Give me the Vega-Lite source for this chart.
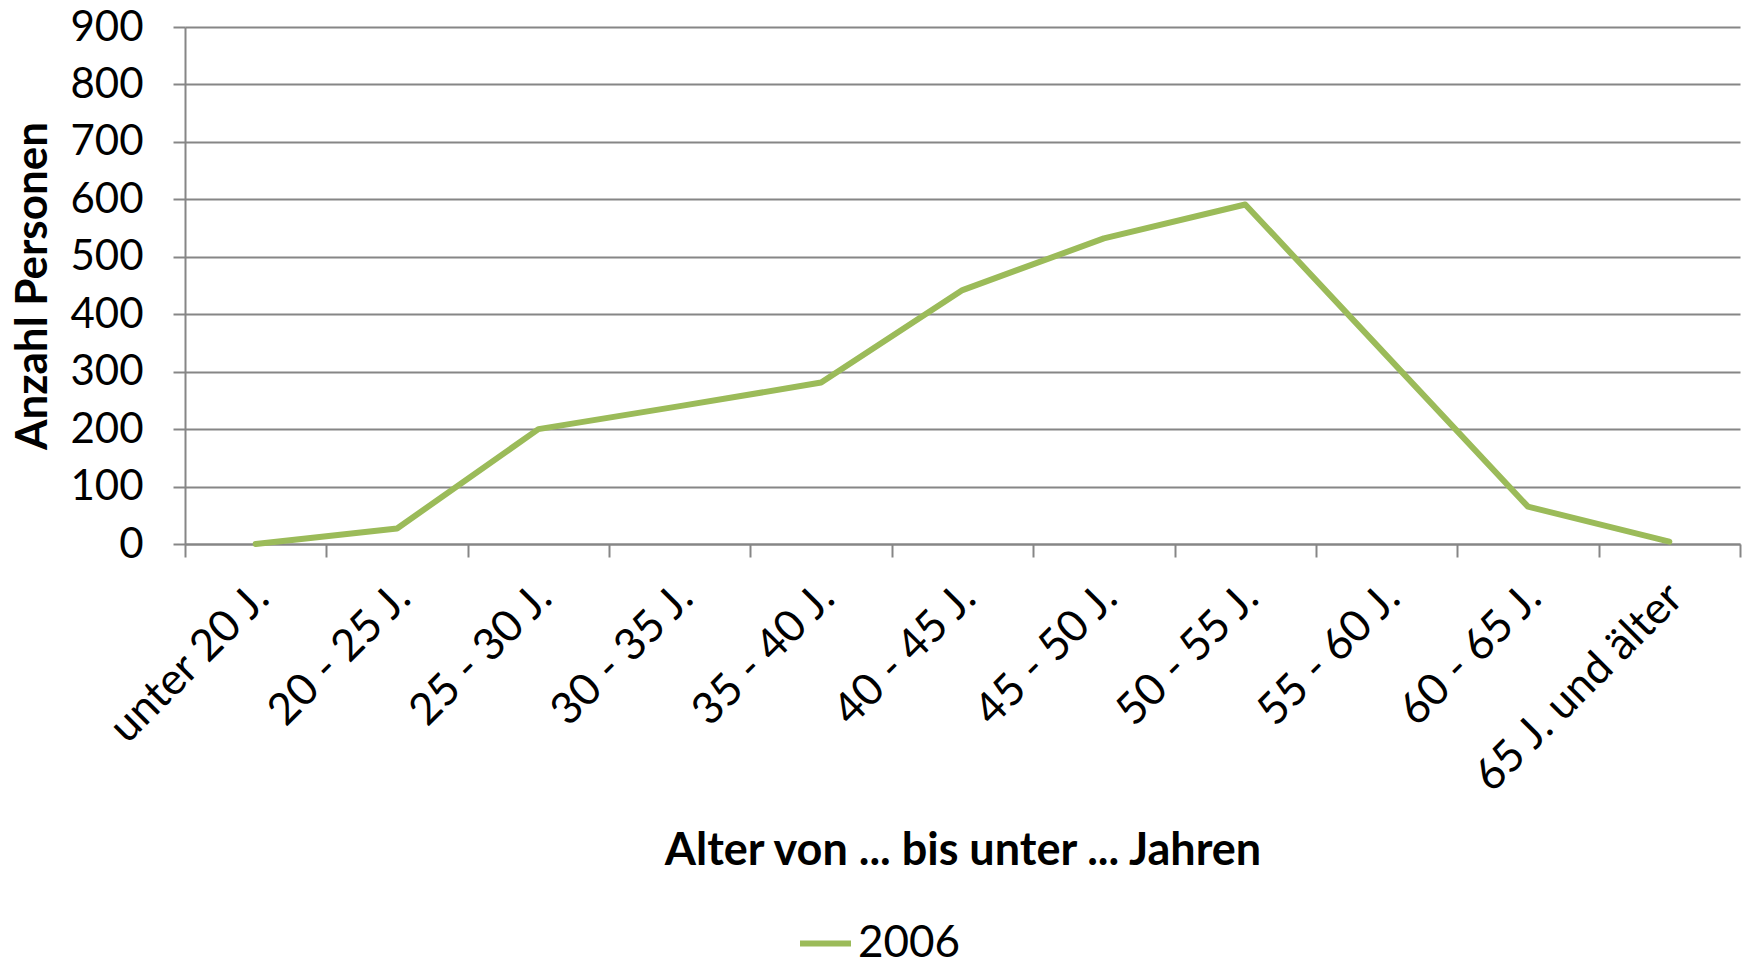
{
  "$schema": "https://vega.github.io/schema/vega-lite/v6.json",
  "autosize": "none",
  "width": 1555,
  "height": 517,
  "padding": {"left": 185, "top": 27, "right": 7, "bottom": 421},
  "background": "white",
  "data": {
    "values": [
      {"alter": "unter 20 J.", "anzahl": 0, "jahr": "2006"},
      {"alter": "20 - 25 J.", "anzahl": 27, "jahr": "2006"},
      {"alter": "25 - 30 J.", "anzahl": 200, "jahr": "2006"},
      {"alter": "30 - 35 J.", "anzahl": 240, "jahr": "2006"},
      {"alter": "35 - 40 J.", "anzahl": 281, "jahr": "2006"},
      {"alter": "40 - 45 J.", "anzahl": 442, "jahr": "2006"},
      {"alter": "45 - 50 J.", "anzahl": 532, "jahr": "2006"},
      {"alter": "50 - 55 J.", "anzahl": 591, "jahr": "2006"},
      {"alter": "55 - 60 J.", "anzahl": 328, "jahr": "2006"},
      {"alter": "60 - 65 J.", "anzahl": 65, "jahr": "2006"},
      {"alter": "65 J. und älter", "anzahl": 4, "jahr": "2006"}
    ]
  },
  "config": {
    "font": "Lato",
    "view": {"stroke": null}
  },
  "mark": {"type": "line", "strokeWidth": 6, "strokeCap": "round", "strokeJoin": "round"},
  "encoding": {
    "x": {
      "field": "alter",
      "type": "ordinal",
      "sort": null,
      "bandPosition": 0.5,
      "scale": {"type": "band", "paddingInner": 0, "paddingOuter": 0},
      "axis": {
        "title": "Alter von ... bis unter ... Jahren",
        "titleFont": "Lato",
        "titleFontSize": 45,
        "titleFontWeight": "bold",
        "titleColor": "black",
        "titleY": 320,
        "titleBaseline": "alphabetic",
        "labelAngle": -45,
        "labelAlign": "right",
        "labelBaseline": "middle",
        "labelFontSize": 44,
        "labelColor": "black",
        "labelLimit": 0,
        "labelPadding": 34,
        "labelOffset": 6,
        "tickBand": "extent",
        "tickSize": 13,
        "tickColor": "#868686",
        "tickWidth": 2,
        "domainColor": "#868686",
        "domainWidth": 2,
        "grid": false
      }
    },
    "y": {
      "field": "anzahl",
      "type": "quantitative",
      "scale": {"domain": [0, 900], "nice": false},
      "axis": {
        "title": "Anzahl Personen",
        "titleFontSize": 44,
        "titleFontWeight": "bold",
        "titleColor": "black",
        "titleX": -152,
        "titleBaseline": "middle",
        "values": [0, 100, 200, 300, 400, 500, 600, 700, 800, 900],
        "labelFontSize": 42,
        "labelColor": "black",
        "labelPadding": 30,
        "tickSize": 12,
        "tickColor": "#868686",
        "tickWidth": 2,
        "domainColor": "#868686",
        "domainWidth": 2,
        "gridColor": "#868686",
        "gridWidth": 2
      }
    },
    "color": {
      "field": "jahr",
      "type": "nominal",
      "scale": {"range": ["#9BBB59"]},
      "legend": {
        "title": null,
        "orient": "none",
        "legendX": 612,
        "legendY": 888,
        "symbolType": "stroke",
        "symbolSize": 2600,
        "symbolStrokeWidth": 6,
        "labelFontSize": 44,
        "labelColor": "black",
        "labelOffset": 4
      }
    }
  }
}
